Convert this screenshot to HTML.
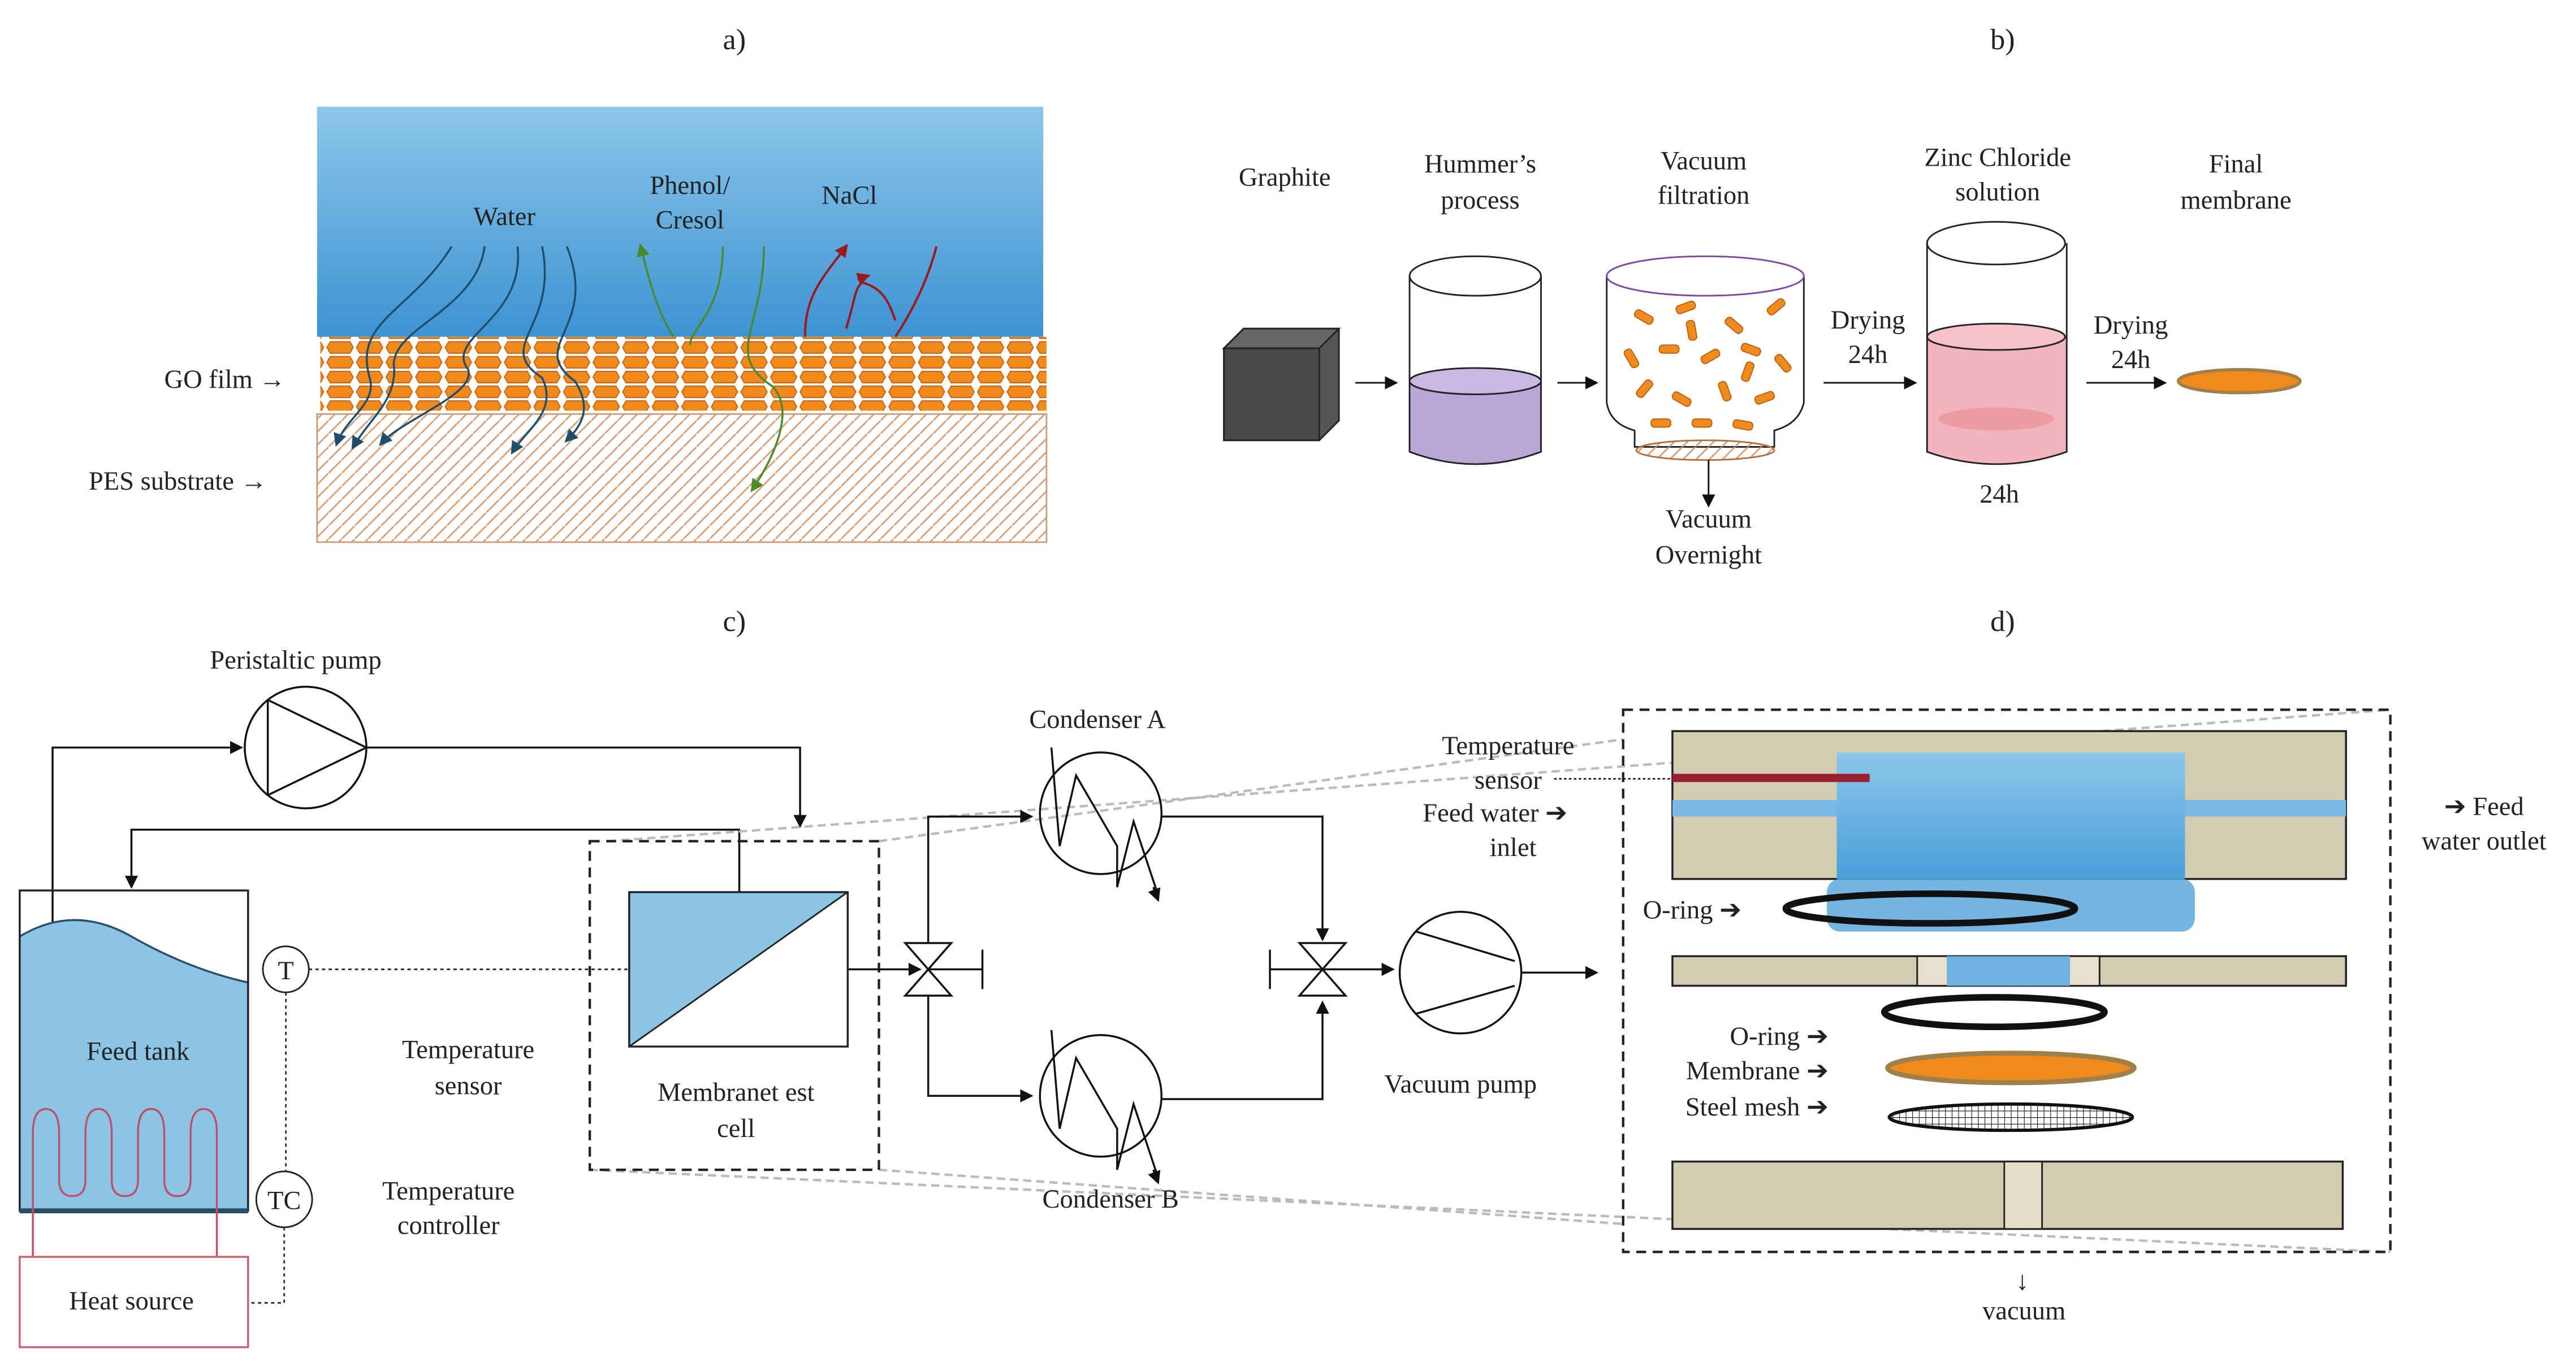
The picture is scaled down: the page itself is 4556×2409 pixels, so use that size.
<!DOCTYPE html>
<html><head><meta charset="utf-8"><style>html,body{margin:0;padding:0;background:#fff}svg{display:block}</style></head><body>
<svg width="4556" height="2409" viewBox="0 0 1568 829" preserveAspectRatio="none" xmlns="http://www.w3.org/2000/svg" font-family="Liberation Serif, serif" font-size="16" fill="#222">
<defs>
<linearGradient id="sky" x1="0" y1="0" x2="0" y2="1"><stop offset="0" stop-color="#8cc6ea"/><stop offset="1" stop-color="#3d93d2"/></linearGradient>
<linearGradient id="cb" x1="0" y1="0" x2="0" y2="1"><stop offset="0" stop-color="#8cc6ea"/><stop offset="1" stop-color="#4a9fda"/></linearGradient>
<pattern id="hex" width="18" height="9" patternUnits="userSpaceOnUse"><polygon points="3,1 15,1 17,4.5 15,8 3,8 1,4.5" fill="#f08a1c" stroke="#c06010" stroke-width="0.6"/></pattern>
<pattern id="hatch" width="8" height="8" patternUnits="userSpaceOnUse"><path d="M0,8 L8,0" stroke="#d6a27a" stroke-width="1"/></pattern>
<pattern id="mesh" width="4" height="4" patternUnits="userSpaceOnUse"><path d="M0,0H4M0,0V4" stroke="#222" stroke-width="0.8"/></pattern>
<marker id="ar" markerWidth="8" markerHeight="8" refX="7" refY="4" orient="auto" markerUnits="userSpaceOnUse"><path d="M0,0L8,4L0,8z" fill="#111"/></marker>
<marker id="ab" markerWidth="8" markerHeight="8" refX="6" refY="4" orient="auto" markerUnits="userSpaceOnUse"><path d="M0,0L8,4L0,8z" fill="#1e4e6a"/></marker>
<marker id="ag" markerWidth="8" markerHeight="8" refX="6" refY="4" orient="auto" markerUnits="userSpaceOnUse"><path d="M0,0L8,4L0,8z" fill="#4a8a2a"/></marker>
<marker id="arr" markerWidth="8" markerHeight="8" refX="6" refY="4" orient="auto" markerUnits="userSpaceOnUse"><path d="M0,0L8,4L0,8z" fill="#9a1a20"/></marker>
</defs>

<text x="447" y="30" text-anchor="middle" font-size="18">a)</text>
<text x="1219" y="30" text-anchor="middle" font-size="18">b)</text>
<text x="447" y="384" text-anchor="middle" font-size="18">c)</text>
<text x="1219" y="384" text-anchor="middle" font-size="18">d)</text>

<!-- panel a -->
<rect x="193" y="65" width="442" height="140" fill="url(#sky)"/>
<rect x="193" y="252" width="444" height="78" fill="url(#hatch)" stroke="#c9a080" stroke-width="1"/>
<rect x="195" y="205" width="442" height="45" fill="url(#hex)"/>
<g fill="none" stroke="#1e4e6a" stroke-width="1.2">
<path d="M275,150 C250,190 215,195 225,230 C230,245 210,255 205,270" marker-end="url(#ab)"/>
<path d="M295,150 C290,190 235,200 240,225 C240,245 225,255 215,272" marker-end="url(#ab)"/>
<path d="M315,150 C320,195 270,205 285,225 C290,240 245,255 232,270" marker-end="url(#ab)"/>
<path d="M330,150 C340,200 300,210 330,230 C340,250 320,262 312,275" marker-end="url(#ab)"/>
<path d="M345,150 C365,200 320,210 350,232 C360,248 355,258 345,268" marker-end="url(#ab)"/>
</g>
<g fill="none" stroke="#4a8a2a" stroke-width="1.2">
<path d="M410,205 C400,190 395,170 390,150" marker-end="url(#ag)"/>
<path d="M440,150 C440,190 420,200 420,210"/>
<path d="M465,150 C465,200 440,215 470,235 C485,250 470,280 458,298" marker-end="url(#ag)"/>
</g>
<g fill="none" stroke="#9a1a20" stroke-width="1.4">
<path d="M490,205 C490,180 500,170 515,150" marker-end="url(#arr)"/>
<path d="M515,200 C520,185 520,175 525,172 C535,175 540,180 545,195" />
<path d="M522,170 L528,168" marker-end="url(#arr)"/>
<path d="M545,205 C555,190 565,170 570,150"/>
</g>
<text x="307" y="137" text-anchor="middle">Water</text>
<text x="420" y="118" text-anchor="middle">Phenol/</text>
<text x="420" y="139" text-anchor="middle">Cresol</text>
<text x="517" y="124" text-anchor="middle">NaCl</text>
<text x="100" y="236">GO film →</text>
<text x="54" y="298">PES  substrate →</text>

<!-- panel b -->
<text x="782" y="113" text-anchor="middle">Graphite</text>
<text x="901" y="105" text-anchor="middle">Hummer’s</text>
<text x="901" y="127" text-anchor="middle">process</text>
<text x="1037" y="103" text-anchor="middle">Vacuum</text>
<text x="1037" y="124" text-anchor="middle">filtration</text>
<text x="1216" y="101" text-anchor="middle">Zinc Chloride</text>
<text x="1216" y="122" text-anchor="middle">solution</text>
<text x="1361" y="105" text-anchor="middle">Final</text>
<text x="1361" y="127" text-anchor="middle">membrane</text>
<polygon points="745,212 757,200 815,200 815,256 803,268 745,268" fill="#555" stroke="#222"/>
<polygon points="745,212 757,200 815,200 803,212" fill="#666" stroke="#222"/>
<rect x="745" y="212" width="58" height="56" fill="#4a4a4a" stroke="#222"/>
<line x1="825" y1="233" x2="850" y2="233" stroke="#111" marker-end="url(#ar)"/>
<path d="M858,232 Q898,242 938,232 V275 Q898,290 858,275Z" fill="#b9a6d6"/>
<ellipse cx="898" cy="232" rx="40" ry="8" fill="#c9b8e2" stroke="#222"/>
<path d="M858,168 V275 Q898,290 938,275 V168" fill="none" stroke="#222"/>
<ellipse cx="898" cy="168" rx="40" ry="12" fill="none" stroke="#222"/>
<line x1="948" y1="233" x2="972" y2="233" stroke="#111" marker-end="url(#ar)"/>
<path d="M978,168 V245 Q980,258 995,262 V272 H1080 V262 Q1095,258 1098,245 V168" fill="#fff" stroke="#222"/>
<ellipse cx="1038" cy="168" rx="60" ry="12" fill="#fff" stroke="#7a4aa0"/>
<ellipse cx="1038" cy="274" rx="42" ry="6" fill="url(#hatch)" stroke="#b07040"/>
<g fill="#f08a1c" stroke="#b05e10" stroke-width="0.6">
<rect x="995" y="190" width="12" height="5" rx="2" transform="rotate(30 1000 192)"/><rect x="1020" y="185" width="12" height="5" rx="2" transform="rotate(-20 1025 187)"/><rect x="1050" y="195" width="12" height="5" rx="2" transform="rotate(40 1055 197)"/><rect x="1075" y="185" width="12" height="5" rx="2" transform="rotate(-40 1080 187)"/>
<rect x="988" y="215" width="12" height="5" rx="2" transform="rotate(60 993 217)"/><rect x="1010" y="210" width="12" height="5" rx="2"/><rect x="1035" y="215" width="12" height="5" rx="2" transform="rotate(-30 1040 217)"/><rect x="1060" y="210" width="12" height="5" rx="2" transform="rotate(20 1065 212)"/><rect x="1080" y="218" width="12" height="5" rx="2" transform="rotate(50 1085 220)"/>
<rect x="995" y="235" width="12" height="5" rx="2" transform="rotate(-50 1000 237)"/><rect x="1018" y="240" width="12" height="5" rx="2" transform="rotate(30 1023 242)"/><rect x="1045" y="235" width="12" height="5" rx="2" transform="rotate(70 1050 237)"/><rect x="1068" y="240" width="12" height="5" rx="2" transform="rotate(-20 1073 242)"/>
<rect x="1005" y="255" width="12" height="5" rx="2"/><rect x="1030" y="255" width="12" height="5" rx="2"/><rect x="1055" y="256" width="12" height="5" rx="2" transform="rotate(10 1060 258)"/><rect x="1025" y="198" width="12" height="5" rx="2" transform="rotate(80 1030 200)"/><rect x="1058" y="225" width="12" height="5" rx="2" transform="rotate(-70 1063 227)"/>
</g>
<line x1="1040" y1="280" x2="1040" y2="308" stroke="#111" marker-end="url(#ar)"/>
<text x="1040" y="321" text-anchor="middle">Vacuum</text>
<text x="1040" y="343" text-anchor="middle">Overnight</text>
<text x="1137" y="200" text-anchor="middle">Drying</text>
<text x="1137" y="221" text-anchor="middle">24h</text>
<line x1="1110" y1="233" x2="1166" y2="233" stroke="#111" marker-end="url(#ar)"/>
<path d="M1173,205 Q1215,215 1258,205 V275 Q1215,290 1173,275Z" fill="#f2b5bd"/>
<ellipse cx="1215" cy="205" rx="42" ry="8" fill="#f4c2c8" stroke="#222"/>
<ellipse cx="1215" cy="255" rx="35" ry="7" fill="#ec9ca3"/>
<path d="M1173,148 V275 Q1215,290 1258,275 V148" fill="none" stroke="#222"/>
<ellipse cx="1215" cy="148" rx="42" ry="13" fill="none" stroke="#222"/>
<text x="1217" y="306" text-anchor="middle">24h</text>
<text x="1297" y="203" text-anchor="middle">Drying</text>
<text x="1297" y="224" text-anchor="middle">24h</text>
<line x1="1270" y1="233" x2="1318" y2="233" stroke="#111" marker-end="url(#ar)"/>
<ellipse cx="1363" cy="232" rx="37" ry="7" fill="#f08a1c" stroke="#a0804a" stroke-width="2"/>

<!-- panel c -->
<g fill="none" stroke="#111" stroke-width="1.2">
<path d="M32,572 V455 H147" marker-end="url(#ar)"/>
<path d="M223,455 H487 V503" marker-end="url(#ar)"/>
<path d="M450,543 V505 H80 V540" marker-end="url(#ar)"/>
</g>
<circle cx="186" cy="455" r="37" fill="none" stroke="#111" stroke-width="1.2"/>
<path d="M163,426 V484 M163,426 L223,455 L163,484" fill="none" stroke="#111" stroke-width="1.2"/>
<text x="180" y="407" text-anchor="middle">Peristaltic pump</text>
<path d="M12,570 Q45,550 80,570 T151,598 V737 H12Z" fill="#8cc4e6"/>
<path d="M12,570 Q45,550 80,570 T151,598" fill="none" stroke="#2a4f6a" stroke-width="1.2"/>
<rect x="12" y="542" width="139" height="195" fill="none" stroke="#222" stroke-width="1.2"/>
<line x1="12" y1="737" x2="151" y2="737" stroke="#2a4f6a" stroke-width="3"/>
<text x="84" y="645" text-anchor="middle">Feed tank</text>
<path d="M20,765 V690 Q20,675 28,675 Q36,675 36,690 V718 Q36,728 44,728 Q52,728 52,718 V690 Q52,675 60,675 Q68,675 68,690 V718 Q68,728 76,728 Q84,728 84,718 V690 Q84,675 92,675 Q100,675 100,690 V718 Q100,728 108,728 Q116,728 116,718 V690 Q116,675 124,675 Q132,675 132,690 V765" fill="none" stroke="#c0506a" stroke-width="1.2"/>
<rect x="12" y="765" width="139" height="55" fill="#fff" stroke="#d06070" stroke-width="1.2"/>
<text x="80" y="797" text-anchor="middle">Heat source</text>
<circle cx="174" cy="590" r="14" fill="#fff" stroke="#222"/>
<text x="174" y="596" text-anchor="middle">T</text>
<circle cx="173" cy="730" r="17" fill="#fff" stroke="#222"/>
<text x="173" y="736" text-anchor="middle">TC</text>
<path d="M188,590 H383 M174,604 V713 M173,747 V793 H152" fill="none" stroke="#333" stroke-dasharray="2,2"/>
<text x="285" y="644" text-anchor="middle">Temperature</text>
<text x="285" y="666" text-anchor="middle">sensor</text>
<text x="273" y="730" text-anchor="middle">Temperature</text>
<text x="273" y="751" text-anchor="middle">controller</text>
<g stroke="#bbb" stroke-dasharray="5,3" stroke-width="1.5" fill="none">
<path d="M370,512 L1455,432"/><path d="M535,512 L988,450"/>
<path d="M359,712 L1455,762"/><path d="M535,712 L988,745"/>
</g>
<rect x="359" y="512" width="176" height="200" fill="none" stroke="#222" stroke-width="1.5" stroke-dasharray="6,4"/>
<polygon points="383,543 516,543 383,637" fill="#8cc4e6"/>
<line x1="516" y1="543" x2="383" y2="637" stroke="#222"/>
<rect x="383" y="543" width="133" height="94" fill="none" stroke="#222" stroke-width="1.2"/>
<text x="448" y="670" text-anchor="middle">Membranet est</text>
<text x="448" y="692" text-anchor="middle">cell</text>
<g fill="none" stroke="#111" stroke-width="1.2">
<path d="M516,590 H560" marker-end="url(#ar)"/>
<path d="M565,574 V497 H628" marker-end="url(#ar)"/>
<path d="M565,606 V667 H628" marker-end="url(#ar)"/>
<path d="M707,497 H805 V572" marker-end="url(#ar)"/>
<path d="M707,669 H805 V610" marker-end="url(#ar)"/>
<path d="M805,590 H848" marker-end="url(#ar)"/>
<path d="M926,592 H972" marker-end="url(#ar)"/>
<path d="M565,590 H598 M598,578 V602 M773,578 V602 M773,590 H805"/>
<path d="M551,574 H579 L551,606 H579Z M791,574 H819 L791,606 H819Z"/>
</g>
<g fill="none" stroke="#111" stroke-width="1.2">
<circle cx="670" cy="495" r="37"/><circle cx="670" cy="667" r="37"/><circle cx="889" cy="592" r="37"/>
<path d="M640,455 L645,515 L655,472 L680,515 L680,540 L690,500 L705,545" /><path d="M702,540 L705,548" marker-end="url(#ar)"/>
<path d="M640,627 L645,687 L655,644 L680,687 L680,712 L690,672 L705,717" /><path d="M702,712 L705,720" marker-end="url(#ar)"/>
<path d="M862,567 L922,585 M862,617 L922,600"/>
</g>
<text x="668" y="443" text-anchor="middle">Condenser A</text>
<text x="676" y="735" text-anchor="middle">Condenser B</text>
<text x="889" y="665" text-anchor="middle">Vacuum pump</text>

<!-- panel d -->
<rect x="988" y="432" width="467" height="330" fill="none" stroke="#222" stroke-width="1.5" stroke-dasharray="6,4"/>
<rect x="1018" y="445" width="410" height="90" fill="#d4cbb3" stroke="#222" stroke-width="1.2"/>
<rect x="1018" y="487" width="410" height="10" fill="#78b8e2"/>
<rect x="1118" y="458" width="212" height="77" fill="url(#cb)"/>
<rect x="1112" y="535" width="224" height="32" fill="#5ca8dc" opacity="0.85" rx="8"/>
<rect x="1018" y="471" width="120" height="5" fill="#9a2030"/>
<path d="M946,474 H1018" stroke="#222" stroke-dasharray="1.5,1.5"/>
<ellipse cx="1175" cy="553" rx="88" ry="9" fill="none" stroke="#111" stroke-width="4"/>
<rect x="1018" y="582" width="410" height="18" fill="#d4cbb3" stroke="#222" stroke-width="1.2"/>
<rect x="1167" y="582" width="111" height="18" fill="#e8e0cc" stroke="#222"/>
<rect x="1185" y="582" width="75" height="18" fill="#6db2e0"/>
<ellipse cx="1214" cy="616" rx="67" ry="9" fill="none" stroke="#111" stroke-width="4"/>
<ellipse cx="1224" cy="650" rx="75" ry="9" fill="#f08a1c" stroke="#a0804a" stroke-width="3"/>
<ellipse cx="1224" cy="680" rx="74" ry="8" fill="url(#mesh)" stroke="#111" stroke-width="2"/>
<rect x="1018" y="707" width="408" height="41" fill="#d4cbb3" stroke="#222" stroke-width="1.2"/>
<rect x="1220" y="707" width="23" height="41" fill="#e6ddc8" stroke="#222"/>
<text x="918" y="459" text-anchor="middle">Temperature</text>
<text x="918" y="480" text-anchor="middle">sensor</text>
<text x="866" y="500">Feed water ➔</text>
<text x="921" y="521" text-anchor="middle">inlet</text>
<text x="1000" y="559">O-ring ➔</text>
<text x="1113" y="636" text-anchor="end">O-ring ➔</text>
<text x="1113" y="657" text-anchor="end">Membrane ➔</text>
<text x="1113" y="679" text-anchor="end">Steel mesh ➔</text>
<text x="1512" y="496" text-anchor="middle">➔ Feed</text>
<text x="1512" y="517" text-anchor="middle">water outlet</text>
<text x="1231" y="785" text-anchor="middle">↓</text>
<text x="1232" y="803" text-anchor="middle">vacuum</text>
</svg>
</body></html>
